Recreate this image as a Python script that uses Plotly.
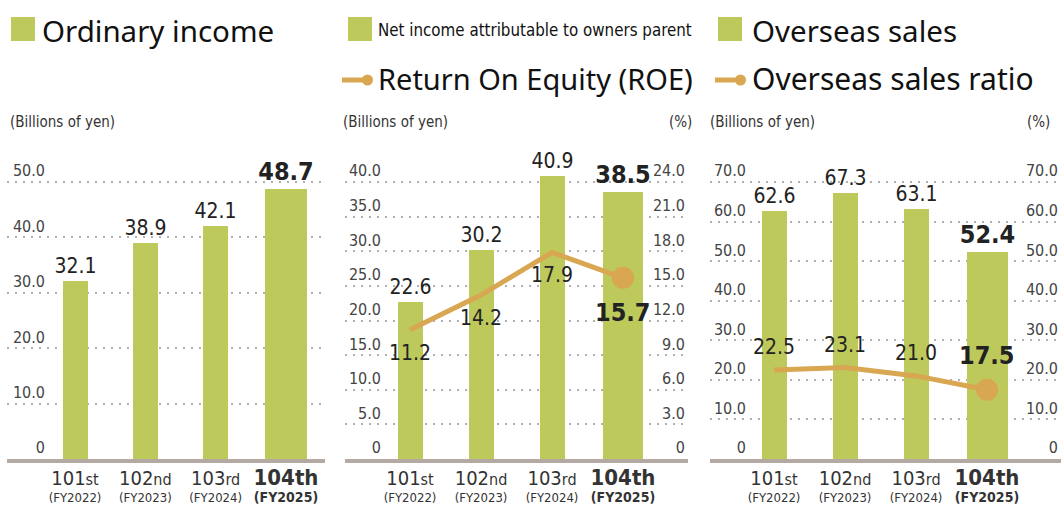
import plotly.graph_objects as go

# ---- data ----
periods = ["101st", "102nd", "103rd", "104th"]
fiscal_years = ["FY2022", "FY2023", "FY2024", "FY2025"]

ordinary_income = [32.1, 38.9, 42.1, 48.7]
net_income = [22.6, 30.2, 40.9, 38.5]
roe = [11.2, 14.2, 17.9, 15.7]
overseas_sales = [62.6, 67.3, 63.1, 52.4]
overseas_ratio = [22.5, 23.1, 21.0, 17.5]

ticks_income = [0, 10, 20, 30, 40, 50]
ticks_net = [0, 5, 10, 15, 20, 25, 30, 35, 40]
ticks_roe = [0, 3, 6, 9, 12, 15, 18, 21, 24]
ticks_overseas = [0, 10, 20, 30, 40, 50, 60, 70]

# ---- style ----
W, H = 1061, 522
GREEN = "#BDC95B"
GOLD = "#D9A651"
BASE = "#B5AAA3"
GRID = "#B0B0B0"
NARROW = "DejaVu Sans Condensed, Liberation Sans, sans-serif"
SANS = "Noto Sans, Open Sans, sans-serif"

PLOT_BOTTOM, PLOT_TOP, TOP_GRID = 459, 145, 182


def px(x):
    return x / W


def py(y):
    return 1 - y / H


def top_of(tick_max):
    # extend the range past the top grid line so its label has room
    return tick_max * (PLOT_BOTTOM - PLOT_TOP) / (PLOT_BOTTOM - TOP_GRID)


def tick_text(vals):
    return ["0" if v == 0 else f"{v:.1f}" for v in vals]


def period_labels():
    out = []
    for i, (p, fy) in enumerate(zip(periods, fiscal_years)):
        if i == len(periods) - 1:
            out.append(f"<span style='font-size:22px;font-weight:bold'>{p}</span>"
                       f"<br><span style='font-size:14px;font-weight:bold'>({fy})</span>")
        else:
            out.append(f"<span style='font-size:20px'>{p[:3]}</span>"
                       f"<span style='font-size:16px'>{p[3:]}</span><br>({fy})")
    return out


def value_labels(vals):
    return [f"<b>{v:.1f}</b>" if i == len(vals) - 1 else f"{v:.1f}" for i, v in enumerate(vals)]


fig = go.Figure()

panels = [
    dict(n=1, vals=ordinary_income, x0=7, x1=325, c0=75, c3=286, lab=45, bw=25, bw4=42),
    dict(n=2, vals=net_income, x0=345, x1=688, c0=410, c3=623, lab=381, bw=25, bw4=40),
    dict(n=3, vals=overseas_sales, x0=710, x1=1061, c0=774, c3=987, lab=746, bw=25, bw4=41),
]

for pnl in panels:
    n = pnl["n"]
    unit = (pnl["c3"] - pnl["c0"]) / 3
    bw = pnl["bw"] / unit
    bw4 = pnl["bw4"] / unit
    fig.add_trace(go.Bar(
        x=periods, y=pnl["vals"], xaxis=f"x{n}", yaxis=f"y{n}",
        marker=dict(color=GREEN, line=dict(width=0)),
        width=[bw, bw, bw, bw4],
        text=value_labels(pnl["vals"]), textposition="outside",
        textfont=dict(family=NARROW, size=[21, 21, 21, 25], color="#222"),
        constraintext="none", cliponaxis=False, showlegend=False,
    ))
    pnl["range"] = [(pnl["x0"] - pnl["c0"]) / unit, (pnl["x1"] - pnl["c0"]) / unit]

for ratio, xa, ya in ((roe, "x2", "y4"), (overseas_ratio, "x3", "y5")):
    fig.add_trace(go.Scatter(
        x=periods, y=ratio, xaxis=xa, yaxis=ya, mode="lines+markers",
        line=dict(color=GOLD, width=5),
        marker=dict(color=GOLD, size=[0, 0, 0, 22], opacity=1, line=dict(width=0)),
        cliponaxis=False, showlegend=False,
    ))

annotations = []
# line value labels
for i, (p, v) in enumerate(zip(periods, roe)):
    last = i == len(roe) - 1
    annotations.append(dict(
        x=p, y=v, xref="x2", yref="y4", text=f"<b>{v:.1f}</b>" if last else f"{v:.1f}",
        showarrow=False, yanchor="top", yshift=-(18 if last else 9),
        font=dict(family=NARROW, size=25 if last else 21, color="#222"),
    ))
for i, (p, v) in enumerate(zip(periods, overseas_ratio)):
    last = i == len(overseas_ratio) - 1
    annotations.append(dict(
        x=p, y=v, xref="x3", yref="y5", text=f"<b>{v:.1f}</b>" if last else f"{v:.1f}",
        showarrow=False, yanchor="bottom", yshift=(18 if last else 9),
        font=dict(family=NARROW, size=25 if last else 21, color="#222"),
    ))

# headings
headings = [
    (40, 30, "Ordinary income", SANS, 29.5),
    (376, 30, "Net income attributable to owners parent", NARROW, 16.8),
    (750, 30, "Overseas sales", SANS, 29.5),
    (376, 79, "Return On Equity (ROE)", SANS, 29),
    (750, 79, "Overseas sales ratio", SANS, 30),
]
for x, y, t, fam, sz in headings:
    annotations.append(dict(x=px(x), y=py(y), xref="paper", yref="paper", text=t,
                            showarrow=False, xanchor="left", yanchor="middle",
                            font=dict(family=fam, size=sz, color="#111")))

units = [(8, "left", "(Billions of yen)"), (341, "left", "(Billions of yen)"),
         (694, "right", "(%)"), (708, "left", "(Billions of yen)"), (1052, "right", "(%)")]
for x, anc, t in units:
    annotations.append(dict(x=px(x), y=py(122), xref="paper", yref="paper", text=t,
                            showarrow=False, xanchor=anc, yanchor="middle",
                            font=dict(family=NARROW, size=15, color="#333")))

shapes = []
for x0 in (11, 348, 718):
    shapes.append(dict(type="rect", xref="paper", yref="paper", x0=px(x0), x1=px(x0 + 24),
                       y0=py(41), y1=py(17), fillcolor=GREEN, line=dict(width=0)))
for x0 in (342, 715):
    shapes.append(dict(type="line", xref="paper", yref="paper", x0=px(x0), x1=px(x0 + 26),
                       y0=py(80), y1=py(80), line=dict(color=GOLD, width=5)))
    shapes.append(dict(type="circle", xref="paper", yref="paper", x0=px(x0 + 20), x1=px(x0 + 31),
                       y0=py(85.5), y1=py(74.5), fillcolor=GOLD, line=dict(width=0)))

ydom = [py(PLOT_BOTTOM), py(PLOT_TOP)]
common_x = dict(type="category", showgrid=False, zeroline=False, showline=True,
                linecolor=BASE, linewidth=4, ticks="", ticklabelstandoff=6, tickangle=0,
                automargin=False, tickvals=periods, ticktext=period_labels(),
                tickfont=dict(family=NARROW, size=13, color="#333"))
common_y = dict(showgrid=True, gridcolor=GRID, griddash="1.5px,6.5px", gridwidth=1.5,
                zeroline=False, showline=False, ticks="", automargin=False,
                tickfont=dict(family=NARROW, size=16, color="#444"))

layout = dict(width=W, height=H, autosize=False, margin=dict(l=0, r=0, t=0, b=0),
              paper_bgcolor="white", plot_bgcolor="white", bargap=0,
              annotations=annotations, shapes=shapes, showlegend=False)

ticksets = {1: ticks_income, 2: ticks_net, 3: ticks_overseas}
for pnl in panels:
    n = pnl["n"]
    layout[f"xaxis{n}"] = dict(common_x, domain=[px(pnl["x0"]), px(pnl["x1"])],
                               range=pnl["range"], anchor=f"y{n}")
    tv = ticksets[n]
    layout[f"yaxis{n}"] = dict(common_y, domain=ydom, range=[0, top_of(tv[-1])],
                               tickvals=tv, ticktext=tick_text(tv), anchor="free",
                               position=px(pnl["lab"]), ticklabelposition="outside top",
                               ticklabelstandoff=0)

layout["yaxis4"] = dict(common_y, overlaying="y2", side="right", anchor="x2", showgrid=False,
                        range=[0, top_of(ticks_roe[-1])], tickvals=ticks_roe,
                        ticktext=tick_text(ticks_roe), ticklabelposition="inside top")
layout["yaxis5"] = dict(common_y, overlaying="y3", side="right", anchor="x3", showgrid=False,
                        range=[0, top_of(ticks_overseas[-1])], tickvals=ticks_overseas,
                        ticktext=tick_text(ticks_overseas), ticklabelposition="inside top")

fig.update_layout(**layout)
# drop the browser's default body margin so the figure sits at the page's top-left corner
fig.write_html("out.html", config={"displayModeBar": False},
               post_script="document.body.style.margin='0';")
